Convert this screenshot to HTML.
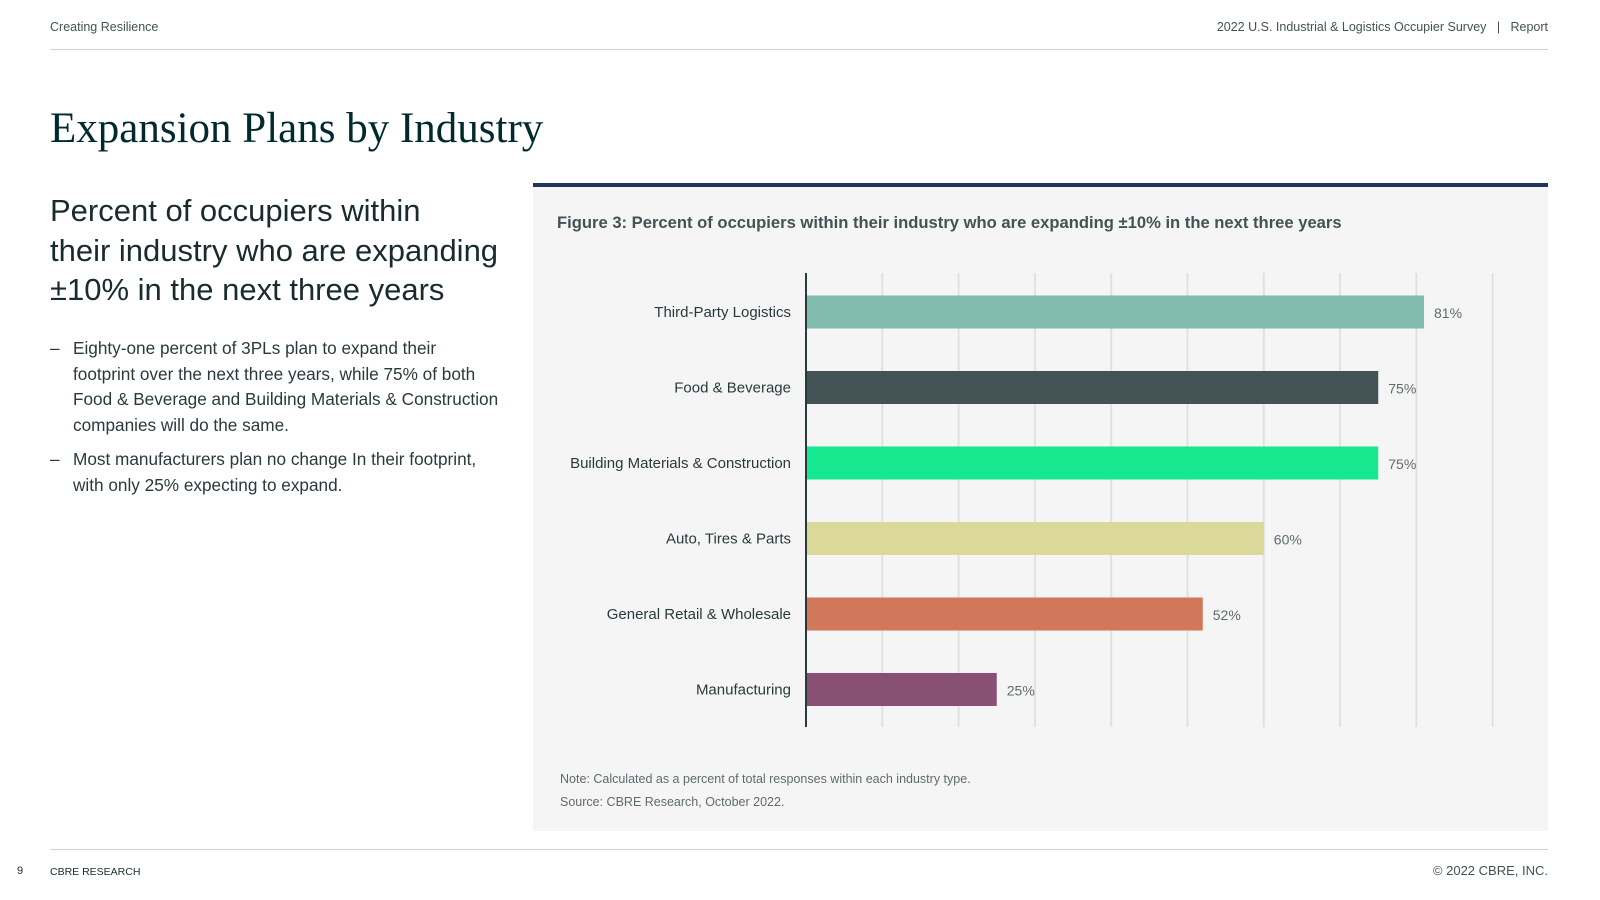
<!DOCTYPE html>
<html><head><meta charset="utf-8"><style>
body{margin:0;width:1600px;height:900px;background:#fff;position:relative;overflow:hidden;font-family:"Liberation Sans",sans-serif;color:#1a2b2e}
.a{position:absolute;white-space:nowrap}
</style></head><body>
<div class="a" style="left:50px;top:20px;font-size:12.5px;color:#435254">Creating Resilience</div>
<div class="a" style="right:52px;top:20px;font-size:12.5px;color:#435254">2022 U.S. Industrial &amp; Logistics Occupier Survey &nbsp; | &nbsp; Report</div>
<div class="a" style="left:50px;top:49px;width:1498px;height:1px;background:#cfd4d4"></div>
<div class="a" style="left:50px;top:104px;font-family:'Liberation Serif',serif;font-size:43px;color:#012a2d">Expansion Plans by Industry</div>
<div class="a" style="left:50px;top:191px;font-size:31px;line-height:39.5px;color:#1a2b2e;font-weight:300">Percent of occupiers within<br>their industry who are expanding<br>±10% in the next three years</div>
<div class="a" style="left:50px;top:336px;font-size:17.2px;line-height:25.5px;color:#2a3a3c">
<div style="position:relative;padding-left:23px"><span style="position:absolute;left:0">–</span>Eighty-one percent of 3PLs plan to expand their<br>footprint over the next three years, while 75% of both<br>Food &amp; Beverage and Building Materials &amp; Construction<br>companies will do the same.</div>
<div style="position:relative;padding-left:23px;margin-top:9px"><span style="position:absolute;left:0">–</span>Most manufacturers plan no change In their footprint,<br>with only 25% expecting to expand.</div>
</div>
<div class="a" style="left:533px;top:183px;width:1015px;height:648px;background:#f5f5f5;border-top:4px solid #1f3560;box-sizing:border-box"></div>
<div class="a" style="left:557px;top:213px;font-size:16.6px;font-weight:bold;color:#435254">Figure 3: Percent of occupiers within their industry who are expanding ±10% in the next three years</div>
<svg class="a" id="chart" style="left:0;top:0" width="1600" height="900"></svg>
<div class="a" style="left:560px;top:772px;font-size:12.5px;color:#5f6b6d">Note: Calculated as a percent of total responses within each industry type.</div>
<div class="a" style="left:560px;top:795px;font-size:12.5px;color:#5f6b6d">Source: CBRE Research, October 2022.</div>
<div class="a" style="left:50px;top:849px;width:1498px;height:1px;background:#cfd4d4"></div>
<div class="a" style="left:17px;top:865px;font-size:11px;color:#1a2b2e">9</div>
<div class="a" style="left:50px;top:866px;font-size:10.5px;color:#1a2b2e">CBRE RESEARCH</div>
<div class="a" style="right:52px;top:863px;font-size:13px;color:#435254">© 2022 CBRE, INC.</div>
<script>
const categories=["Third-Party Logistics","Food & Beverage","Building Materials & Construction","Auto, Tires & Parts","General Retail & Wholesale","Manufacturing"];
const values=[81,75,75,60,52,25];
const colors=["#80bbad","#435254","#17e88f","#dbd99a","#d2785a","#885073"];
const gridTicks=[10,20,30,40,50,60,70,80,90];
const NS="http://www.w3.org/2000/svg",svg=document.getElementById('chart');
const x0=806,pxPer=7.63,top0=273,bot=727,firstC=312,step=75.5,bh=33;
const xs=v=>x0+v*pxPer, yc=i=>firstC+i*step;
function mk(t,a){const e=document.createElementNS(NS,t);for(const k in a)e.setAttribute(k,a[k]);svg.appendChild(e);return e;}
gridTicks.forEach(t=>{const l=mk('line',{x1:xs(t),x2:xs(t),y1:top0,y2:bot,stroke:'#e0e1e1','stroke-width':2});

});
categories.forEach((c,i)=>{
const r=mk('rect',{x:x0,y:yc(i)-bh/2,width:xs(values[i])-x0,height:bh,fill:colors[i]});


const lb=mk('text',{x:x0-15,y:yc(i)+5,'text-anchor':'end','font-size':15,fill:'#2a3a3c','font-family':'Liberation Sans, sans-serif'});lb.textContent=c;


const vl=mk('text',{x:xs(values[i])+10,y:yc(i)+6,'font-size':14,fill:'#5f6b6d','font-family':'Liberation Sans, sans-serif'});vl.textContent=values[i]+'%';


});
const ax=mk('line',{x1:x0,x2:x0,y1:top0,y2:bot,stroke:'#2a3a3c','stroke-width':2});


</script>
</body></html>
